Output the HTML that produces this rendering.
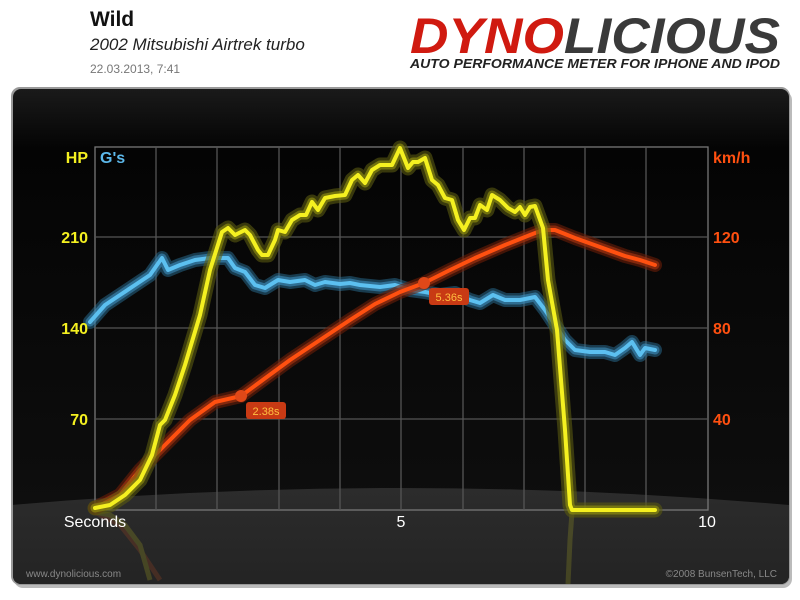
<!DOCTYPE html>
<html><head><meta charset="utf-8"><style>
body{margin:0;width:800px;height:600px;background:#fff;overflow:hidden;font-family:"Liberation Sans",sans-serif;position:relative}
.t{position:absolute;white-space:nowrap}
</style></head><body>
<div class="t" style="left:90px;top:8px;font-size:21px;font-weight:bold;color:#111">Wild</div>
<div class="t" style="left:90px;top:35px;font-size:17px;font-style:italic;color:#222">2002 Mitsubishi Airtrek turbo</div>
<div class="t" style="left:90px;top:62px;font-size:12px;color:#777">22.03.2013, 7:41</div>
<svg width="800" height="600" style="position:absolute;left:0;top:0">
<defs>
<linearGradient id="bg" x1="0" y1="0" x2="0" y2="1"><stop offset="0" stop-color="#1a1a1a"/><stop offset="0.12" stop-color="#040404"/><stop offset="1" stop-color="#101010"/></linearGradient>
<linearGradient id="fl" x1="0" y1="0" x2="0" y2="1"><stop offset="0" stop-color="#2c2c2c"/><stop offset="1" stop-color="#222"/></linearGradient>
<clipPath id="fc"><rect x="13" y="89" width="776" height="495" rx="8"/></clipPath>
</defs>
<text x="410" y="53" font-family="Liberation Sans" font-size="50" font-weight="bold" font-style="italic" textLength="370" lengthAdjust="spacingAndGlyphs"><tspan fill="#d01a10">DYNO</tspan><tspan fill="#3a3a3a">LICIOUS</tspan></text>
<text x="410" y="68" font-family="Liberation Sans" font-size="12.5" font-weight="bold" font-style="italic" fill="#222" textLength="370" lengthAdjust="spacingAndGlyphs">AUTO PERFORMANCE METER FOR IPHONE AND IPOD</text>
<rect x="14" y="91" width="778" height="497" rx="9" fill="#bbb"/>
<rect x="11" y="87" width="779" height="498" rx="9" fill="#999"/>
<g clip-path="url(#fc)">
<rect x="13" y="89" width="776" height="495" fill="url(#bg)"/>
<path d="M0,506 Q400,470 800,506 L800,600 L0,600Z" fill="url(#fl)"/>
<g opacity="0.15" fill="none" stroke-width="5">
<polyline stroke="#ff6020" points="95,512 120,525 140,550 160,580"/>
<polyline stroke="#ffff20" points="95,512 110,515 125,525 140,545 150,580"/>
<polyline stroke="#ffff20" points="572,512 570,540 568,584"/>
</g>
</g>
<g stroke="#555" stroke-width="1.3" fill="none">
<rect x="95" y="147" width="613" height="363" stroke="#777"/>
<path d="M156,147V510M217,147V510M279,147V510M340,147V510M401,147V510M463,147V510M524,147V510M585,147V510M646,147V510M95,237H708M95,328H708M95,419H708"/>
</g>
<g fill="none" stroke-linejoin="round" stroke-linecap="round">
<g id="b"><polyline points="90,322 105,305 120,295 135,285 150,275 157,265 162,258 168,270 180,265 195,260 210,258 228,258 235,268 245,272 255,285 265,288 278,280 290,282 305,280 315,285 325,282 340,284 350,283 360,285 380,287 395,285 410,290 425,292 440,295 455,293 470,300 480,303 493,295 505,300 520,300 535,297 545,310 555,325 565,340 575,350 590,352 605,352 615,355 625,348 632,342 640,355 645,348 655,350"/></g>
<use href="#b" stroke="#2a6f95" stroke-width="14" opacity="0.5"/>
<use href="#b" stroke="#3d8fc0" stroke-width="9" opacity="0.6"/>
<use href="#b" stroke="#5cc0f0" stroke-width="4"/>
<g id="o"><polyline points="95,508 120,495 140,470 165,445 190,420 215,402 241,396 260,382 290,360 320,340 350,320 375,304 400,292 424,283 450,270 475,258 505,245 530,235 543,230 555,230 575,238 600,247 625,256 640,260 655,265"/></g>
<use href="#o" stroke="#6a1e08" stroke-width="14" opacity="0.6"/>
<use href="#o" stroke="#a03010" stroke-width="9" opacity="0.7"/>
<use href="#o" stroke="#ff5010" stroke-width="4"/>
<g id="y"><polyline points="95,508 110,505 125,495 140,480 152,455 160,425 165,420 175,395 185,365 200,315 210,270 222,232 228,228 235,235 245,230 250,235 258,250 262,255 268,255 275,240 278,230 285,232 292,220 300,215 306,215 312,202 318,210 325,198 335,196 345,195 352,180 358,175 365,183 372,170 380,165 392,165 400,148 408,168 413,162 418,162 425,158 432,180 438,185 445,198 452,200 458,220 464,230 470,218 475,218 480,205 487,210 492,195 500,200 508,208 515,212 520,207 525,215 530,207 535,206 543,228 548,280 557,330 565,430 570,505 572,510 655,510"/></g>
<use href="#y" stroke="#5a5a10" stroke-width="15" opacity="0.6"/>
<use href="#y" stroke="#8a8a10" stroke-width="9" opacity="0.7"/>
<use href="#y" stroke="#f4f020" stroke-width="4"/>
</g>
<circle cx="241" cy="396" r="6" fill="#e04818"/>
<circle cx="424" cy="283" r="6" fill="#e04818"/>
<rect x="246" y="402" width="40" height="17" rx="3" fill="#c83a14"/>
<text x="266" y="415" font-size="11" fill="#ffc040" text-anchor="middle" font-family="Liberation Sans">2.38s</text>
<rect x="429" y="288" width="40" height="17" rx="3" fill="#c83a14"/>
<text x="449" y="301" font-size="11" fill="#ffc040" text-anchor="middle" font-family="Liberation Sans">5.36s</text>
<g font-family="Liberation Sans" font-size="16" font-weight="bold">
<text x="88" y="163" fill="#f4f020" text-anchor="end">HP</text>
<text x="100" y="163" fill="#5cb8ea">G's</text>
<text x="88" y="243" fill="#f4f020" text-anchor="end">210</text>
<text x="88" y="334" fill="#f4f020" text-anchor="end">140</text>
<text x="88" y="425" fill="#f4f020" text-anchor="end">70</text>
<text x="713" y="163" fill="#ff5010">km/h</text>
<text x="713" y="243" fill="#ff5010">120</text>
<text x="713" y="334" fill="#ff5010">80</text>
<text x="713" y="425" fill="#ff5010">40</text>
</g>
<g font-family="Liberation Sans" font-size="16" fill="#fff">
<text x="95" y="527" text-anchor="middle">Seconds</text>
<text x="401" y="527" text-anchor="middle">5</text>
<text x="707" y="527" text-anchor="middle">10</text>
</g>
<text x="26" y="577" font-family="Liberation Sans" font-size="10" fill="#888">www.dynolicious.com</text>
<text x="777" y="577" font-family="Liberation Sans" font-size="10" fill="#888" text-anchor="end">©2008 BunsenTech, LLC</text>
</svg>
</body></html>
